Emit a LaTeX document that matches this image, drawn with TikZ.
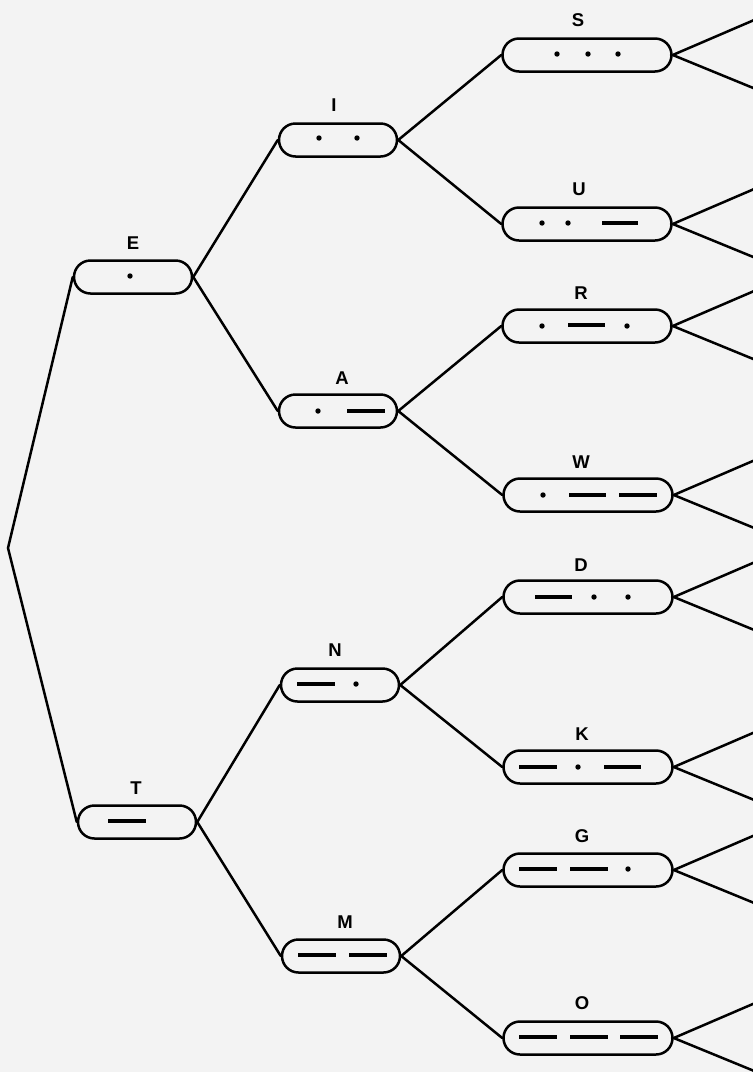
\documentclass[tikz,border=0pt]{standalone}
\usepackage{fontspec}
\usetikzlibrary{calc}
\setsansfont{Liberation Sans}
\definecolor{paper}{RGB}{243,243,243}
\begin{document}
\begin{tikzpicture}[x=1pt,y=-1pt,
  box/.style={draw, line width=2.5pt, rounded corners=16.5pt, minimum height=33pt, inner sep=0pt},
  boxa/.style={box, minimum width=118pt},
  boxb/.style={box, minimum width=169pt},
  lbl/.style={font=\sffamily\bfseries\fontsize{18.5}{19}\selectfont, inner sep=0pt},
  edge/.style={line width=2.5pt, line cap=round},
  dsh/.style={line width=3.8pt},
  dotr/.style={fill=black}]
\useasboundingbox[fill=paper] (0,0) rectangle (753,1072);
\clip (0,0) rectangle (753,1072);
% root
\coordinate (root) at (8,548);
% level 1
\node[boxa] (E) at (133,277) {};
\node[boxa] (T) at (137,822) {};
% level 2
\node[boxa] (I) at (338,140) {};
\node[boxa] (A) at (338,411) {};
\node[boxa] (N) at (340,685) {};
\node[boxa] (M) at (341,956) {};
% level 3
\node[boxb] (S) at (587,55) {};
\node[boxb] (U) at (587,224) {};
\node[boxb] (R) at (587,326) {};
\node[boxb] (W) at (588,495) {};
\node[boxb] (D) at (588,597) {};
\node[boxb] (K) at (588,767) {};
\node[boxb] (G) at (588,870) {};
\node[boxb] (O) at (588,1038) {};
% labels
\node[lbl] (lE) at (133,243) {E};
\node[lbl] (lT) at (136,788) {T};
\node[lbl] (lI) at (334,105) {I};
\node[lbl] (lA) at (342,378) {A};
\node[lbl] (lN) at (335,650) {N};
\node[lbl] (lM) at (345,922) {M};
\node[lbl] (lS) at (578,20) {S};
\node[lbl] (lU) at (579,189) {U};
\node[lbl] (lR) at (581,293) {R};
\node[lbl] (lW) at (581,462) {W};
\node[lbl] (lD) at (581,565) {D};
\node[lbl] (lK) at (582,734) {K};
\node[lbl] (lG) at (582,836) {G};
\node[lbl] (lO) at (582,1003) {O};
% connectors
\draw[edge] (E.west) -- (root) -- (T.west);
\draw[edge] (I.west) -- (E.east) -- (A.west);
\draw[edge] (N.west) -- (T.east) -- (M.west);
\draw[edge] (S.west) -- (I.east) -- (U.west);
\draw[edge] (R.west) -- (A.east) -- (W.west);
\draw[edge] (D.west) -- (N.east) -- (K.west);
\draw[edge] (G.west) -- (M.east) -- (O.west);
% leaf ends
\foreach \n in {S,U,R,W,D,K,G,O}{
  \coordinate (\n up) at ($(\n.east)+(100,-43)$);
  \coordinate (\n dn) at ($(\n.east)+(100,41)$);
  \draw[edge] (\n up) -- (\n.east) -- (\n dn);
}
% codes
\fill[dotr] (130,276) circle (2.7pt);
\draw[dsh] (108,821) -- (146,821);
\fill[dotr] (319,138) circle (2.7pt);
\fill[dotr] (357,138) circle (2.7pt);
\fill[dotr] (318,411) circle (2.7pt);
\draw[dsh] (347,411) -- (385,411);
\draw[dsh] (297,684) -- (335,684);
\fill[dotr] (356,684) circle (2.7pt);
\draw[dsh] (298,955) -- (336,955);
\draw[dsh] (349,955) -- (387,955);
% S
\fill[dotr] (557,54) circle (2.7pt);
\fill[dotr] (588,54) circle (2.7pt);
\fill[dotr] (618,54) circle (2.7pt);
% U
\fill[dotr] (542,223) circle (2.7pt);
\fill[dotr] (568,223) circle (2.7pt);
\draw[dsh] (602,223) -- (638,223);
% R
\fill[dotr] (542,326) circle (2.7pt);
\draw[dsh] (568,325) -- (605,325);
\fill[dotr] (627,326) circle (2.7pt);
% W
\fill[dotr] (543,495) circle (2.7pt);
\draw[dsh] (569,495) -- (606,495);
\draw[dsh] (619,495) -- (657,495);
% D
\draw[dsh] (535,597) -- (572,597);
\fill[dotr] (594,597) circle (2.7pt);
\fill[dotr] (628,597) circle (2.7pt);
% K
\draw[dsh] (519,767) -- (557,767);
\fill[dotr] (578,767) circle (2.7pt);
\draw[dsh] (604,767) -- (641,767);
% G
\draw[dsh] (519,869) -- (557,869);
\draw[dsh] (570,869) -- (608,869);
\fill[dotr] (628,869) circle (2.7pt);
% O
\draw[dsh] (519,1037) -- (557,1037);
\draw[dsh] (570,1037) -- (608,1037);
\draw[dsh] (620,1037) -- (658,1037);
\end{tikzpicture}
\end{document}
